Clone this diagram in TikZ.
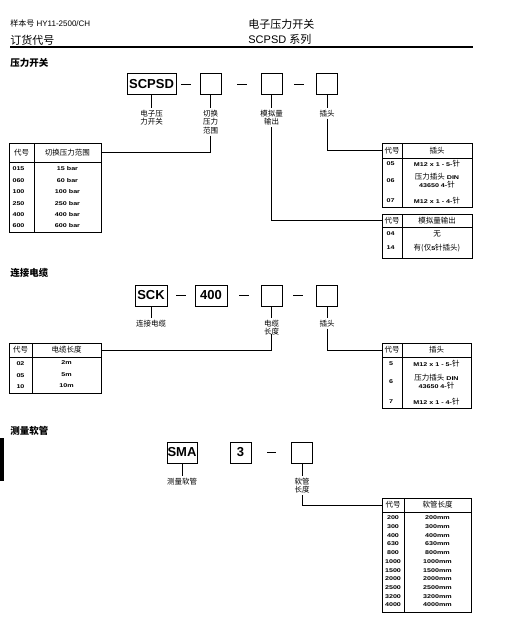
\documentclass[tikz,border=0pt]{standalone}
\usepackage{fontspec}
\setmainfont{Liberation Sans}
\newfontfamily\cjk{Noto Sans CJK SC}
\newfontfamily\wide[FakeStretch=1.3]{Liberation Sans}
\newcommand\cj[1]{{\cjk\mdseries\fontsize{7.5}{8}\selectfont #1}}
\begin{document}
\begin{tikzpicture}[x=1pt, y=-1pt, line width=0.8pt,
  codebox/.style={draw, inner sep=0pt, minimum height=21pt, font=\fontsize{13}{13}\selectfont\bfseries},
  slotbox/.style={draw, inner sep=0pt, minimum width=21pt, minimum height=21pt},
  sublabel/.style={font=\cjk\fontsize{7.5}{8.5}\selectfont, align=center, inner sep=1.5pt},
  tabframe/.style={draw, inner sep=0pt, anchor=north west},
  thead/.style={font=\cjk\fontsize{7.5}{8}\selectfont, inner sep=0pt},
  tcell/.style={font=\wide\bfseries\fontsize{5.5}{8}\selectfont, align=center, inner sep=0pt},
  sectitle/.style={anchor=west, inner sep=0pt, font=\cjk\bfseries\fontsize{9.5}{10}\selectfont}]
\useasboundingbox (0,0) rectangle (512,619);
% header
\node[anchor=west, inner sep=0pt, font=\fontsize{8}{9}\selectfont] (docno) at (10,23) {{\cjk 样本号} HY11-2500/CH};
\node[anchor=west, inner sep=0pt, font=\cjk\fontsize{11}{12}\selectfont] (order) at (10,40) {订货代号};
\node[anchor=west, inner sep=0pt, font=\cjk\fontsize{11}{12}\selectfont] (title) at (248,24) {电子压力开关};
\node[anchor=west, inner sep=0pt, font=\fontsize{11}{12}\selectfont] (series) at (248,39) {SCPSD {\cjk 系列}};
\draw[line width=2pt] (10,47) -- (473,47);

% pressure switch
\node[sectitle] (sec1) at (10,63) {压力开关};
\node[codebox, minimum width=49pt] (scpsd) at (151.5,84) {SCPSD};
\node[slotbox] (sw1) at (210.5,84) {};
\node[slotbox] (sw2) at (271.5,84) {};
\node[slotbox] (sw3) at (327,84) {};
\draw ([xshift=5pt]scpsd.east) -- ++(10,0);
\draw ([xshift=16pt]sw1.east) -- ++(10,0);
\draw ([xshift=12pt]sw2.east) -- ++(10,0);
\node[sublabel, anchor=north] (lblSw) at (151.5,108) {电子压\\力开关};
\node[sublabel, anchor=north] (lblRng) at (210.5,108) {切换\\压力\\范围};
\node[sublabel, anchor=north] (lblAna) at (271.5,108) {模拟量\\输出};
\node[sublabel, anchor=north] (lblPlug) at (327,108) {插头};
\draw (scpsd.south) -- (lblSw.north);
\draw (sw1.south) -- (lblRng.north);
\draw (sw2.south) -- (lblAna.north);
\draw (sw3.south) -- (lblPlug.north);

% range table
\node[tabframe, minimum width=92pt, minimum height=89pt] (rngTab) at (9,143) {};
\draw (9,162) -- (101,162);
\draw (34,143) -- (34,232);
\node[thead] (rngHc) at (21.5,152.5) {代号};
\node[thead] (rngHead) at (67.5,152.5) {切换压力范围};
\foreach \c/\v [count=\i from 0] in {015/15 bar, 060/60 bar, 100/100 bar, 250/250 bar, 400/400 bar, 600/600 bar} {
  \node[tcell] (rngC\i) at (18.5,{169+11.4*\i}) {\c};
  \node[tcell] (rngV\i) at (67.5,{169+11.4*\i}) {\v};
}
\draw (lblRng.south) |- (rngTab.east |- rngHead);

% plug table
\node[tabframe, minimum width=90pt, minimum height=64pt] (plgTab) at (382,143) {};
\draw (382,158) -- (472,158);
\draw (402,143) -- (402,207);
\node[thead] (plgHc) at (392,150.5) {代号};
\node[thead] (plgHead) at (437,150.5) {插头};
\node[tcell] (plgC1) at (390.5,164) {05};
\node[tcell] (plgV1) at (437,164) {M12 x 1 - 5-\cj{针}};
\node[tcell] (plgC2) at (390.5,181) {06};
\node[tcell] (plgV2) at (437,181) {\cj{压力插头} DIN\\43650 4-\cj{针}};
\node[tcell] (plgC3) at (390.5,201) {07};
\node[tcell] (plgV3) at (437,201) {M12 x 1 - 4-\cj{针}};
\draw (lblPlug.south) |- (plgTab.west |- plgHead);

% analog table
\node[tabframe, minimum width=90pt, minimum height=44pt] (anaTab) at (382,214) {};
\draw (382,227) -- (472,227);
\draw (402,214) -- (402,258);
\node[thead] (anaHc) at (392,220.5) {代号};
\node[thead] (anaHead) at (437,220.5) {模拟量输出};
\node[tcell] (anaC1) at (390.5,234) {04};
\node[tcell] (anaV1) at (437,234) {\cj{无}};
\node[tcell] (anaC2) at (390.5,248) {14};
\node[tcell] (anaV2) at (437,248) {\cj{有(仅}5\cj{针插头)}};
\draw (lblAna.south) |- (anaTab.west |- anaHead);

% cable
\node[sectitle] (sec2) at (10,273) {连接电缆};
\node[codebox, minimum width=32pt] (sck) at (151,295.5) {SCK};
\node[codebox, minimum width=32pt] (len400) at (211,295.5) {400};
\node[slotbox] (cb1) at (271.5,295.5) {};
\node[slotbox] (cb2) at (327,295.5) {};
\draw ([xshift=9pt]sck.east) -- ++(10,0);
\draw ([xshift=12pt]len400.east) -- ++(10,0);
\draw ([xshift=11pt]cb1.east) -- ++(10,0);
\node[sublabel, anchor=north] (lblCab) at (151,318) {连接电缆};
\node[sublabel, anchor=north] (lblLen) at (271.5,318) {电缆\\长度};
\node[sublabel, anchor=north] (lblPlug2) at (327,318) {插头};
\draw (sck.south) -- (lblCab.north);
\draw (cb1.south) -- (lblLen.north);
\draw (cb2.south) -- (lblPlug2.north);

% cable length table
\node[tabframe, minimum width=92pt, minimum height=50pt] (lenTab) at (9,343) {};
\draw (9,357) -- (101,357);
\draw (32,343) -- (32,393);
\node[thead] (lenHc) at (20.5,350) {代号};
\node[thead] (lenHead) at (66.5,350) {电缆长度};
\foreach \c/\v [count=\i from 0] in {02/2m, 05/5m, 10/10m} {
  \node[tcell] (lenC\i) at (20.5,{364+11.5*\i}) {\c};
  \node[tcell] (lenV\i) at (66.5,{363+11.5*\i}) {\v};
}
\draw ([yshift=3pt]lblLen.south) |- (lenTab.east |- lenHead);

% cable plug table
\node[tabframe, minimum width=89pt, minimum height=65pt] (plg2Tab) at (382,343) {};
\draw (382,357) -- (471,357);
\draw (402,343) -- (402,408);
\node[thead] (plg2Hc) at (392,350) {代号};
\node[thead] (plg2Head) at (436.5,350) {插头};
\node[tcell] (plg2C1) at (391,364) {5};
\node[tcell] (plg2V1) at (436.5,364) {M12 x 1 - 5-\cj{针}};
\node[tcell] (plg2C2) at (391,382) {6};
\node[tcell] (plg2V2) at (436.5,382) {\cj{压力插头} DIN\\43650 4-\cj{针}};
\node[tcell] (plg2C3) at (391,402) {7};
\node[tcell] (plg2V3) at (436.5,402) {M12 x 1 - 4-\cj{针}};
\draw (lblPlug2.south) |- (plg2Tab.west |- plg2Head);

% hose
\node[sectitle] (sec3) at (10,431) {测量软管};
\fill (0,438) rectangle (4,481);
\node[codebox, minimum width=30pt] (sma) at (182,452.5) {SMA};
\node[codebox, minimum width=21pt] (three) at (240.5,452.5) {3};
\node[slotbox] (hs1) at (302,452.5) {};
\draw ([xshift=16pt]three.east) -- ++(9,0);
\node[sublabel, anchor=north] (lblHose) at (182,476) {测量软管};
\node[sublabel, anchor=north] (lblHLen) at (302,476) {软管\\长度};
\draw (sma.south) -- (lblHose.north);
\draw (hs1.south) -- (lblHLen.north);

% hose length table
\node[tabframe, minimum width=89pt, minimum height=114pt] (hoseTab) at (382,498) {};
\draw (382,512) -- (471,512);
\draw (404,498) -- (404,612);
\node[thead] (hoseHc) at (393,505) {代号};
\node[thead] (hoseHead) at (437.5,505) {软管长度};
\foreach \c [count=\i from 0] in {200, 300, 400, 630, 800, 1000, 1500, 2000, 2500, 3200, 4000} {
  \node[tcell] (hoseC\i) at (393,{518+8.7*\i}) {\c};
  \node[tcell] (hoseV\i) at (437.5,{518+8.7*\i}) {\c mm};
}
\draw (lblHLen.south) |- (hoseTab.west |- hoseHead);
\end{tikzpicture}
\end{document}
